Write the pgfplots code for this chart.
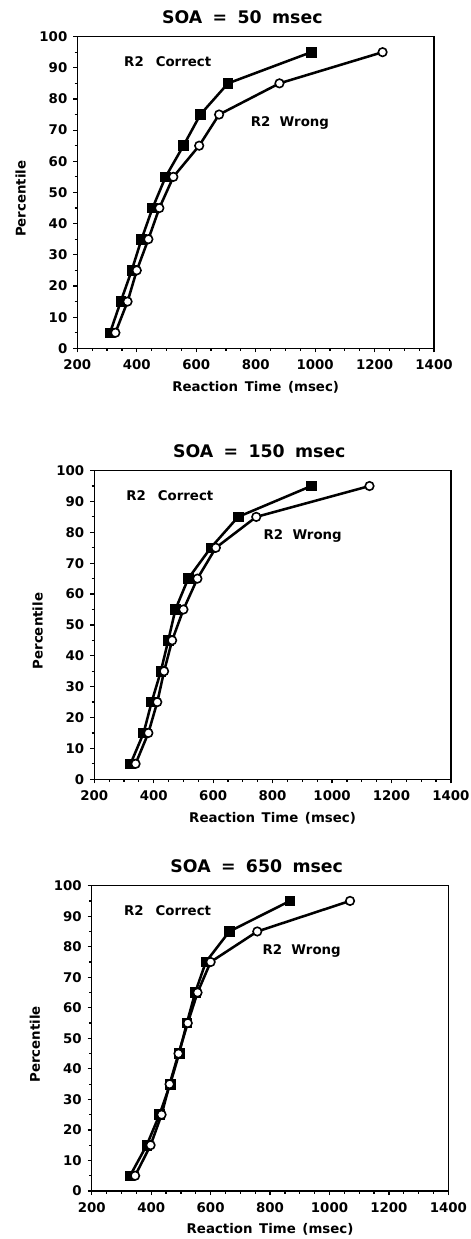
\documentclass[border=0pt]{standalone}
\usepackage{fontspec}
\setmainfont{DejaVu Sans}
\usepackage{pgfplots}
\pgfplotsset{compat=1.18}
\tikzset{lab/.style={font=\bfseries\fontsize{10}{12}\selectfont, anchor=west}}
\newcommand{\gap}{\hspace{0.6em}}
\pgfplotsset{
  panel/.style={
    scale only axis,
    width=267.5pt,
    anchor=south west,
    xmin=200, xmax=1400, ymin=0, ymax=100,
    xtick={200,400,...,1400}, ytick={0,10,...,100},
    minor x tick num=3, minor y tick num=1,
    tick align=outside, tick pos=left,
    major tick length=3pt, minor tick length=2pt,
    axis line style={line width=1.1pt},
    every tick/.style={line width=0.9pt, black},
    /pgf/number format/assume math mode=true,
    /pgf/number format/1000 sep={},
    tick label style={font=\bfseries\fontsize{10}{12}\selectfont},
    label style={font=\bfseries\fontsize{10}{12}\selectfont},
    title style={font=\bfseries\fontsize{13}{15}\selectfont, at={(0.5,1)}, anchor=center, yshift=8.5pt, xshift=-10pt},
    xlabel style={at={(0.5,0)}, anchor=center, yshift=-29pt},
    ylabel style={at={(-0.159,0.48)}, anchor=center},
    xlabel={Reaction\hspace{0.5em}Time\hspace{0.5em}(msec)},
    ylabel={Percentile},
    xticklabel style={yshift=-2pt},
    yticklabel style={xshift=-1pt},
  },
  correct/.style={black, line width=1.9pt, mark=square*, mark size=3.6pt, mark options={solid, fill=black, line width=0.6pt}},
  wrong/.style={black, line width=1.9pt, mark=*, mark size=3.2pt, mark options={solid, fill=white, line width=1.2pt}},
}
\begin{document}
\begin{tikzpicture}
\useasboundingbox (0,0) rectangle (353.25pt,929.25pt);
% Panel 1
\begin{axis}[panel, at={(58.0pt,668.0pt)}, height=233.8pt, title={SOA\gap=\gap50\gap msec}]
\addplot[correct] coordinates {(310,5) (346,15) (383,25) (416,35) (453,45) (497,55) (557,65) (614,75) (707,85) (987,95)};
\addplot[wrong] coordinates {(328,5) (369,15) (400,25) (439,35) (476,45) (523,55) (610,65) (677,75) (880,85) (1227,95)};
\node[lab] at (axis cs:342,92) {R2\hspace{0.9em}Correct};
\node[lab] at (axis cs:768,72.2) {R2\hspace{0.7em}Wrong};
\end{axis}
% Panel 2
\begin{axis}[panel, at={(70.7pt,344.8pt)}, height=231.5pt, title={SOA\gap=\gap150\gap msec}]
\addplot[correct] coordinates {(322,5) (366,15) (393,25) (424,35) (449,45) (473,55) (516,65) (592,75) (684,85) (930,95)};
\addplot[wrong] coordinates {(339,5) (382,15) (412,25) (435,35) (462,45) (500,55) (547,65) (609,75) (745,85) (1126,95)};
\node[lab] at (axis cs:292,91.9) {R2\hspace{0.9em}Correct};
\node[lab] at (axis cs:754,78.8) {R2\hspace{0.7em}Wrong};
\end{axis}
% Panel 3
\begin{axis}[panel, at={(68.8pt,36.0pt)}, height=229.0pt, title={SOA\gap=\gap650\gap msec}]
\addplot[correct] coordinates {(329,5) (385,15) (428,25) (464,35) (494,45) (520,55) (548,65) (584,75) (663,85) (867,95)};
\addplot[wrong] coordinates {(346,5) (398,15) (435,25) (462,35) (492,45) (523,55) (556,65) (600,75) (757,85) (1069,95)};
\node[lab] at (axis cs:293,91.8) {R2\hspace{0.9em}Correct};
\node[lab] at (axis cs:759,78.7) {R2\hspace{0.7em}Wrong};
\end{axis}
\end{tikzpicture}
\end{document}
